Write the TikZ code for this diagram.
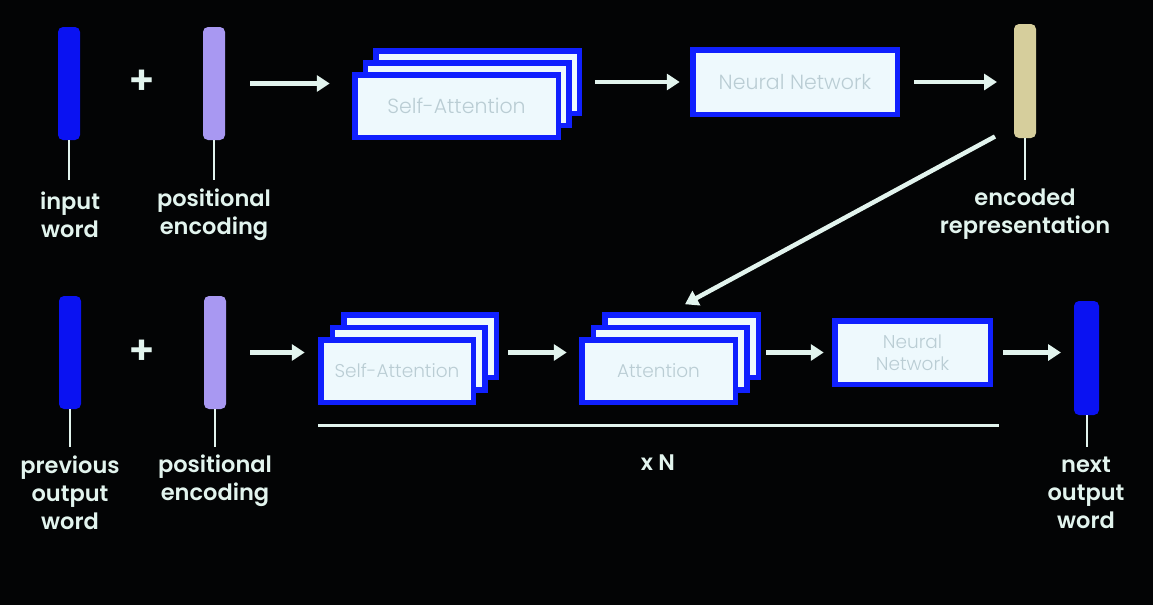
\documentclass[tikz,border=0pt]{standalone}
\usepackage{fontspec}
\setmainfont{Poppins}
\newfontfamily\lblfont{Poppins SemiBold}
\newfontfamily\boxfont{Poppins Light}
\usetikzlibrary{arrows.meta,calc}
\definecolor{bgc}{HTML}{030405}
\definecolor{barblue}{HTML}{0A12F2}
\definecolor{lav}{HTML}{A898F2}
\definecolor{tanc}{HTML}{D6CE9C}
\definecolor{fg}{HTML}{E2F4EE}
\definecolor{boxfill}{HTML}{EEF9FD}
\definecolor{boxtext}{HTML}{BACDD4}
\definecolor{boxblue}{HTML}{1020FF}
\tikzset{
  bar/.style={rounded corners=5pt, minimum width=22pt, minimum height=113pt, inner sep=0pt, outer sep=0pt},
  blk/.style={draw=boxblue, line width=5.5pt, fill=boxfill, inner sep=0pt, outer sep=0pt, text=boxtext, align=center},
  bigtxt/.style={font=\boxfont\fontsize{20.5}{22}\selectfont},
  smalltxt/.style={font=\boxfont\fontsize{18.5}{22}\selectfont},
  arr/.style={draw=fg, line width=4.5pt, -{Triangle[length=13pt,width=16pt]}},
  stem/.style={draw=fg, line width=2pt},
  lbl/.style={text=fg, font=\lblfont\fontsize{22.5}{28}\selectfont, align=center, inner sep=0pt},
  plus/.style={text=fg, font=\lblfont\fontsize{40}{40}\selectfont, inner sep=0pt}
}
\begin{document}
\begin{tikzpicture}[x=1pt,y=-1pt]
\fill[bgc] (0,0) rectangle (1153,605);
\useasboundingbox (0,0) rectangle (1153,605);

% ---------- top row (encoder) ----------
\node[bar, fill=barblue] (inW) at (69,83.5) {};
\node[bar, fill=lav] (posT) at (214,83.5) {};
\node[bar, fill=tanc, minimum height=114pt] (enc) at (1025,81) {};
\node[plus] (plusT) at (142,82) {+};

\node[blk, minimum width=203.5pt, minimum height=62.5pt] (saT3) at (477.5,82) {};
\node[blk, minimum width=203.5pt, minimum height=62.5pt] (saT2) at (467,94) {};
\node[blk, bigtxt, minimum width=203.5pt, minimum height=62.5pt] (saT1) at (456.5,106) {Self-Attention};
\node[blk, bigtxt, minimum width=204.5pt, minimum height=64.5pt] (nnT) at (795,82) {Neural Network};

\draw[stem] (inW.south) -- ++(0,40);
\draw[stem] (posT.south) -- ++(0,40);
\draw[stem] (enc.south) -- ++(0,42);
\node[lbl] (inL) at (70,215) {input\\word};
\node[lbl] (posTL) at (214,215) {positional\\encoding};
\node[lbl] (encL) at (1025,214) {encoded\\representation};

\draw[arr, shorten <=25pt, shorten >=25pt] (posT) -- (posT -| saT1.west);
\draw[arr, shorten <=16pt, shorten >=13pt] (saT3.east |- nnT.west) -- (nnT.west);
\draw[arr, shorten <=17pt, shorten >=17pt] (nnT.east) -- (nnT.east -| enc.west);

% ---------- bottom row (decoder) ----------
\node[bar, fill=barblue] (prevW) at (70,352.5) {};
\node[bar, fill=lav] (posB) at (215,352.5) {};
\node[bar, fill=barblue, minimum width=25pt, minimum height=114pt] (nextW) at (1086.5,358) {};
\node[plus] (plusB) at (142,352) {+};

\node[blk, minimum width=152.5pt, minimum height=62.5pt] (saB3) at (420,346) {};
\node[blk, minimum width=152.5pt, minimum height=62.5pt] (saB2) at (408.5,358.5) {};
\node[blk, smalltxt, minimum width=152.5pt, minimum height=62.5pt] (saB1) at (397,371) {Self-Attention};

\node[blk, minimum width=153.5pt, minimum height=62.5pt] (attB3) at (681.5,346) {};
\node[blk, minimum width=153.5pt, minimum height=62.5pt] (attB2) at (670,358.5) {};
\node[blk, smalltxt, minimum width=153.5pt, minimum height=62.5pt] (attB1) at (658.5,371) {Attention};

\node[blk, smalltxt, minimum width=155.5pt, minimum height=63.5pt] (nnB) at (912.5,352.5) {Neural\\Network};

\draw[stem] (prevW.south) -- ++(0,38);
\draw[stem] (posB.south) -- ++(0,38);
\draw[stem] (nextW.south) -- ++(0,32);
\node[lbl] (prevL) at (70,493) {previous\\output\\word};
\node[lbl] (posBL) at (215,481) {positional\\encoding};
\node[lbl] (nextL) at (1086,493) {next\\output\\word};

\draw[arr, shorten <=24pt, shorten >=16pt] (posB) -- (posB -| saB1.west);
\draw[arr, shorten <=12pt, shorten >=15pt] (saB3.east |- nnB.west) -- (attB1.west |- nnB.west);
\draw[arr, shorten <=8pt, shorten >=11pt] (attB3.east |- nnB.west) -- (nnB.west);
\draw[arr, shorten <=13pt, shorten >=13pt] (nnB.east) -- (nnB.east -| nextW.west);

% encoder -> decoder attention
\draw[arr] ([xshift=-19pt,yshift=1.5pt]enc.south west) -- ([xshift=3.5pt,yshift=10.5pt]attB3.north);

% repeat bracket
\coordinate (uL) at (318,425.5);
\coordinate (uR) at (999,425.5);
\draw[fg, line width=3pt] (uL) -- (uR);
\node[lbl] (xN) at (658,463) {x N};
\end{tikzpicture}
\end{document}
